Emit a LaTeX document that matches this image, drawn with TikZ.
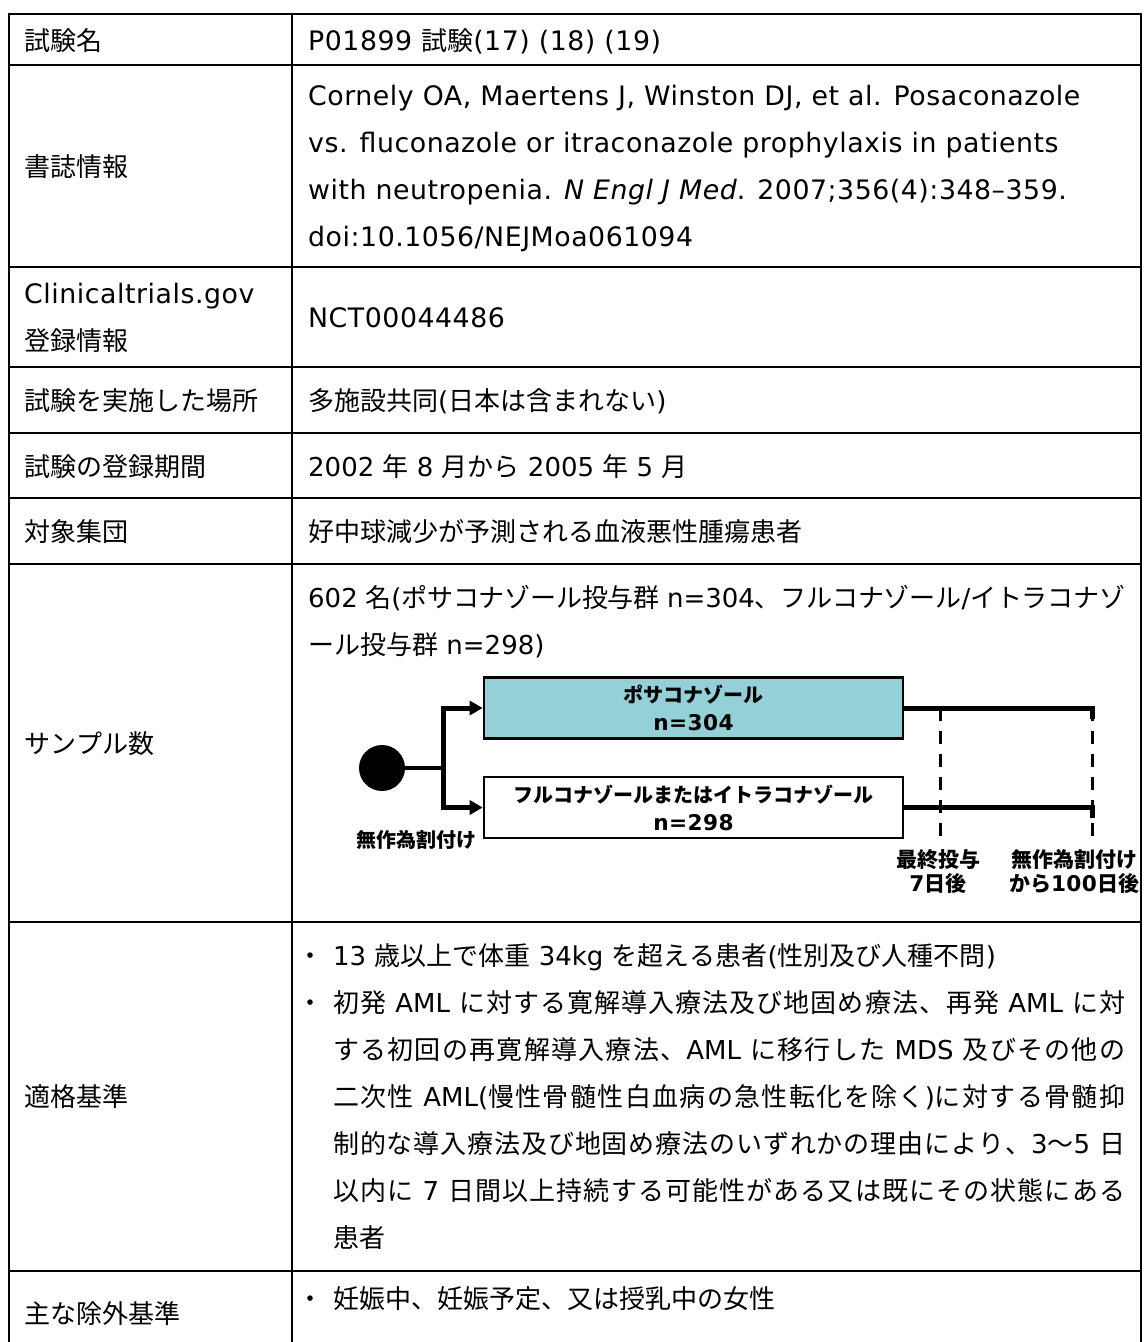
\documentclass[tikz,border=0pt]{standalone}
\usepackage{fontspec}
\setmainfont{DejaVu Sans}[Scale=1.03,LetterSpace=2]
\newfontfamily\cjkfam{Noto Sans CJK JP}
\newfontfamily\jpLatin{DejaVu Sans}
\usetikzlibrary{arrows.meta}
\makeatletter
\newXeTeXintercharclass\CJKcls
\def\cjkrange#1#2{\count@=#1\relax
  \loop\XeTeXcharclass\count@=\CJKcls\relax
  \ifnum\count@<#2\relax\advance\count@ by 1\relax\repeat}
\cjkrange{"3000}{"30FF}
\cjkrange{"4E00}{"9FFF}
\cjkrange{"FF00}{"FFEF}
\makeatother
\def\latinsw{\rmfamily}
\def\cjkglue{\hskip 0pt plus 0.2em minus 0.03em\relax}
\XeTeXinterchartoks 0 \CJKcls = {\cjkfam}
\XeTeXinterchartoks 4095 \CJKcls = {\cjkfam}
\XeTeXinterchartoks \CJKcls 0 = {\latinsw}
\XeTeXinterchartoks \CJKcls 4095 = {\latinsw}
\XeTeXinterchartoks \CJKcls \CJKcls = {\cjkglue}
\XeTeXinterchartokenstate=1
\definecolor{armfill}{RGB}{148,208,216}
\newcommand\jline[1]{\makebox[792pt][s]{#1}}
\begin{document}
\begin{tikzpicture}[x=1pt,y=-1pt,
  rule/.style={line width=2.3pt},
  cell/.style={anchor=base west,inner sep=0pt,font=\fontsize{26}{30}\selectfont},
  jp/.style={cell,font=\fontsize{26}{30}\selectfont\jpLatin\def\latinsw{\jpLatin}},
  arm/.style={draw,line width=2.6pt,minimum width=419pt,minimum height=61pt,inner sep=0pt,align=center,font=\bfseries\fontsize{20}{28}\selectfont},
  branch/.style={line width=5pt,line join=miter},
  tips/.style={{Triangle[length=13pt,width=14pt]}-{Triangle[length=13pt,width=14pt]}},
  guide/.style={line width=3pt,dash pattern=on 13pt off 10pt},
  dlab/.style={inner sep=0pt,align=center,font=\bfseries\fontsize{20}{24}\selectfont},
]
\useasboundingbox (0,0) rectangle (1144,1342);
% table rules
\draw[rule] (9,1342) -- (9,14) -- (1141,14) -- (1141,1342);
\draw[rule] (292,14) -- (292,1342);
\foreach \yy in {65,267,367,433,498,564,922,1271}
  \draw[rule] (9,\yy) -- (1141,\yy);
% left column
\node[cell] (h1) at (24,50) {試験名};
\node[cell] (h2) at (24,176) {書誌情報};
\node[cell] (h3a) at (24,303.5) {Clinicaltrials.gov};
\node[cell] (h3b) at (24,350.5) {登録情報};
\node[cell] (h4) at (24,410) {試験を実施した場所};
\node[cell] (h5) at (24,476) {試験の登録期間};
\node[cell] (h6) at (24,541) {対象集団};
\node[cell] (h7) at (24,753) {サンプル数};
\node[cell] (h8) at (24,1106.5) {適格基準};
\node[cell] (h9) at (24,1323) {主な除外基準};
% right column
\node[cell] (v1) at (308,50) {P01899 試験(17) (18) (19)};
\node[cell] (v2a) at (308,105.5) {Cornely OA, Maertens J, Winston DJ, et al. Posaconazole};
\node[cell] (v2b) at (308,152.5) {vs. fluconazole or itraconazole prophylaxis in patients};
\node[cell] (v2c) at (308,199.5) {with neutropenia. \textit{N Engl J Med}. 2007;356(4):348–359.};
\node[cell] (v2d) at (308,246.5) {doi:10.1056/NEJMoa061094};
\node[cell] (v3) at (308,327) {NCT00044486};
\node[jp] (v4) at (308,410) {多施設共同(日本は含まれない)};
\node[jp] (v5) at (308,476) {2002 年 8 月から 2005 年 5 月};
\node[jp] (v6) at (308,541) {好中球減少が予測される血液悪性腫瘍患者};
\node[jp] (v7a) at (308,607) {\makebox[817pt][s]{602 名(ポサコナゾール投与群 n=304、フルコナゾール/イトラコナゾ}};
\node[jp] (v7b) at (308,654) {ール投与群 n=298)};
\node[jp] (b8a) at (297,965.5) {・};
\node[jp] (v8a) at (333,965.5) {13 歳以上で体重 34kg を超える患者(性別及び人種不問)};
\node[jp] (b8b) at (297,1012.5) {・};
\node[jp] (v8b) at (333,1012.5) {\jline{初発 AML に対する寛解導入療法及び地固め療法、再発 AML に対}};
\node[jp] (v8c) at (333,1059.5) {\jline{する初回の再寛解導入療法、AML に移行した MDS 及びその他の}};
\node[jp] (v8d) at (333,1106.5) {\jline{二次性 AML(慢性骨髄性白血病の急性転化を除く)に対する骨髄抑}};
\node[jp] (v8e) at (333,1153.5) {\jline{制的な導入療法及び地固め療法のいずれかの理由により、3～5 日}};
\node[jp] (v8f) at (333,1200.5) {\jline{以内に 7 日間以上持続する可能性がある又は既にその状態にある}};
\node[jp] (v8g) at (333,1247.5) {患者};
\node[jp] (b9) at (297,1308) {・};
\node[jp] (v9) at (333,1308) {妊娠中、妊娠予定、又は授乳中の女性};
% study diagram
\node[circle,fill=black,minimum size=46pt,inner sep=0pt] (dot) at (382,768) {};
\node[arm,fill=armfill] (armA) at (693.5,708) {ポサコナゾール\\{\fontsize{21}{28}\selectfont n=304}};
\node[arm,fill=white] (armB) at (693.5,807.5) {フルコナゾールまたはイトラコナゾール\\{\fontsize{21}{28}\selectfont n=298}};
\coordinate (jn) at (443,768);
\draw[line width=4pt] (dot.east) -- (jn);
\draw[branch,tips] (armA.west) -| (jn |- armB.west) -- (armB.west);
\coordinate (t1) at (940,708);
\coordinate (t2) at (1092,708);
\coordinate (t2d) at (1092,719);
\coordinate (b2) at (1092,807.5);
\coordinate (b2d) at (1092,818);
\coordinate (e1) at (940,836);
\coordinate (e2) at (1092,836);
\draw[guide] (t1) -- (e1);
\draw[guide] (t2) -- (e2);
\draw[branch] (armA.east) -- (t2) -- (t2d);
\draw[branch] (armB.east) -- (b2) -- (b2d);
\node[dlab] (rand) at (416,840) {無作為割付け};
\node[dlab,font=\bfseries\fontsize{21}{24}\selectfont] (last7) at (938,872) {最終投与\\7日後};
\node[dlab,font=\bfseries\fontsize{21}{24}\selectfont] (d100) at (1074,872) {無作為割付け\\から100日後};
\end{tikzpicture}
\end{document}
